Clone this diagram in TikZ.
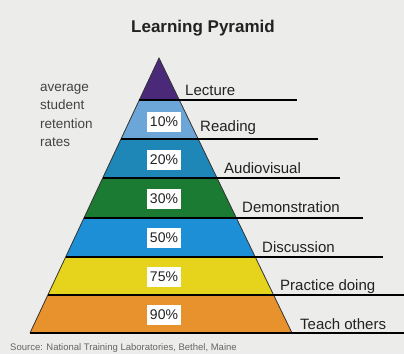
\documentclass[tikz,border=0pt]{standalone}
\usepackage{fontspec}
\setmainfont{Liberation Sans}
\usetikzlibrary{calc}
\definecolor{paper}{HTML}{ECECEA}
\definecolor{cLecture}{HTML}{4A2A78}
\definecolor{cReading}{HTML}{6CA6D9}
\definecolor{cAudio}{HTML}{1F86B8}
\definecolor{cDemo}{HTML}{1B7B33}
\definecolor{cDisc}{HTML}{1C8FD6}
\definecolor{cPract}{HTML}{E6D31B}
\definecolor{cTeach}{HTML}{E8922E}
\definecolor{ink}{HTML}{222222}
\tikzset{
  levelline/.style={draw=black, line width=1.8pt},
  pctbox/.style={fill=white, inner sep=0pt, minimum width=34pt, minimum height=20pt,
    font=\fontsize{14}{14}\selectfont, text=ink},
  levellabel/.style={anchor=base west, inner sep=0pt, font=\fontsize{15}{15}\selectfont, text=ink},
  sidetext/.style={anchor=north west, align=left, inner sep=0pt,
    font=\fontsize{13.5}{18.5}\selectfont, text=ink!85},
}
\begin{document}
\begin{tikzpicture}[x=1pt, y=-1pt]
  \useasboundingbox (0,0) rectangle (404,354);
  \clip (0,0) rectangle (404,354);
  \fill[paper] (0,0) rectangle (404,354);

  % title
  \node[font=\bfseries\fontsize{17}{17}\selectfont, text=ink, anchor=base] (title) at (203,32) {Learning Pyramid};

  % side caption
  \node[sidetext] (side) at (40,84) {average\\student\\retention\\rates};

  % pyramid bands (left x, right x at each boundary)
  \fill[cLecture] (159,58) -- (179.3,100) -- (139.3,100) -- cycle;
  \fill[cReading] (139.3,100) -- (179.3,100) -- (198.2,139) -- (121.0,139) -- cycle;
  \fill[cAudio]   (121.0,139) -- (198.2,139) -- (217.0,178) -- (102.7,178) -- cycle;
  \fill[cDemo]    (102.7,178) -- (217.0,178) -- (236.4,218) -- (84.0,218) -- cycle;
  \fill[cDisc]    (84.0,218) -- (236.4,218) -- (255.2,257) -- (65.7,257) -- cycle;
  \fill[cPract]   (65.7,257) -- (255.2,257) -- (273.6,295) -- (47.8,295) -- cycle;
  \fill[cTeach]   (47.8,295) -- (273.6,295) -- (292,333) -- (30,333) -- cycle;

  % outline of the sides
  \draw[black!80, line width=0.8pt] (30,333) -- (159,58) -- (292,333);

  % level lines
  \draw[levelline] (139.3,100) -- (297,100);
  \draw[levelline] (121.0,139) -- (318,139);
  \draw[levelline] (102.7,178) -- (340,178);
  \draw[levelline] (84.0,218) -- (363,218);
  \draw[levelline] (65.7,257) -- (383,257);
  \draw[levelline] (47.8,295) -- (404,295);
  \draw[levelline] (30,333) -- (404,333);

  % retention percentages
  \node[pctbox] (p10) at (164,122) {10\%};
  \node[pctbox] (p20) at (164,160) {20\%};
  \node[pctbox] (p30) at (164,199) {30\%};
  \node[pctbox] (p50) at (164,238) {50\%};
  \node[pctbox] (p75) at (164,277) {75\%};
  \node[pctbox] (p90) at (164,315) {90\%};

  % method labels
  \node[levellabel] (lecture) at (185,95) {Lecture};
  \node[levellabel] (reading) at (200,131) {Reading};
  \node[levellabel] (audio) at (224,173) {Audiovisual};
  \node[levellabel] (demo) at (242,212) {Demonstration};
  \node[levellabel] (disc) at (262,252) {Discussion};
  \node[levellabel] (pract) at (280,290) {Practice doing};
  \node[levellabel] (teach) at (300,329) {Teach others};

  % source line
  \node[anchor=base west, inner sep=0pt, font=\fontsize{9.5}{9.5}\selectfont, text=ink!70] (source) at (10,350.5)
    {Source: National Training Laboratories, Bethel, Maine};
\end{tikzpicture}
\end{document}
